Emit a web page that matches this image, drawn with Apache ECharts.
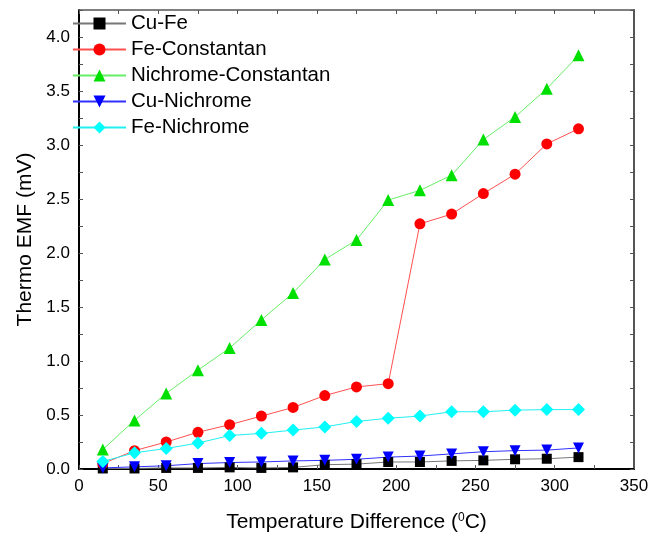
<!DOCTYPE html>
<html>
<head>
<meta charset="utf-8">
<script src="https://cdn.jsdelivr.net/npm/echarts@6/dist/echarts.min.js"></script>
<style>html,body{margin:0;padding:0;background:#fff}#c{width:659px;height:538px}</style>
</head>
<body>
<div id="c"></div>
<script>
const temps = [15,35,55,75,95,115,135,155,175,195,215,235,255,275,295,315];
const cuFe = [0.005,0.005,0.01,0.01,0.015,0.01,0.015,0.04,0.045,0.065,0.065,0.075,0.08,0.09,0.095,0.11];
const feConstantan = [0.05,0.17,0.25,0.34,0.41,0.49,0.57,0.68,0.76,0.79,2.27,2.36,2.55,2.73,3.01,3.15];
const nichromeConstantan = [0.18,0.45,0.70,0.915,1.12,1.38,1.63,1.94,2.12,2.49,2.58,2.72,3.05,3.26,3.52,3.83];
const cuNichrome = [0.01,0.02,0.03,0.05,0.06,0.065,0.075,0.08,0.09,0.11,0.12,0.14,0.16,0.17,0.175,0.195];
const feNichrome = [0.07,0.15,0.19,0.24,0.31,0.33,0.36,0.39,0.44,0.47,0.49,0.53,0.53,0.545,0.55,0.55];
const seriesNames = ['Cu-Fe','Fe-Constantan','Nichrome-Constantan','Cu-Nichrome','Fe-Nichrome'];

const pair = arr => temps.map((t,i)=>[t,arr[i]]);
const FONT = 'Liberation Sans, Arial, sans-serif';
const chart = echarts.init(document.getElementById('c'), null, {renderer:'canvas'});

function mk(name, arr, marker, lineColor, symbol, size, rotate){
  return {
    name, type:'line', data:pair(arr), symbol, symbolSize:size, symbolRotate:rotate||0,
    showAllSymbol:true, animation:false,
    itemStyle:{color:marker, borderWidth:0},
    lineStyle:{color:lineColor, width:1},
    emphasis:{disabled:true}
  };
}

const option = {
  backgroundColor:'#fff',
  animation:false,
  grid:{left:79, right:25, top:10, bottom:69},
  legend:{
    orient:'vertical', left:72, top:13, padding:0,
    itemWidth:53, itemHeight:15, itemGap:5,
    textStyle:{fontFamily:FONT, fontSize:20.5, color:'#000'},
    data:seriesNames
  },
  xAxis:[{
    type:'value', min:0, max:350, interval:25,
    name:'{a|Temperature Difference (}{s|0}{a|C)}', nameLocation:'middle', nameGap:43,
    nameTextStyle:{rich:{a:{fontFamily:FONT,fontSize:21,color:'#000'},s:{fontFamily:FONT,fontSize:12,color:'#000',verticalAlign:'top',padding:[0,0,9,0]}}},
    axisLine:{show:true, onZero:false, lineStyle:{color:'#000', width:2}},
    axisTick:{inside:true, length:4, lineStyle:{color:'#555'}},
    axisLabel:{margin:9, fontFamily:FONT, fontSize:17, color:'#000', formatter:v=> v%50===0 ? String(v) : ''},
    splitLine:{show:false}
  },{
    type:'value', min:0, max:350, interval:25, position:'top',
    axisLine:{show:true, onZero:false, lineStyle:{color:'#555', width:1.5}},
    axisTick:{inside:true, length:4, lineStyle:{color:'#555'}},
    axisLabel:{show:false}, splitLine:{show:false}
  }],
  yAxis:[{
    type:'value', min:0, max:4.25, interval:0.25,
    name:'Thermo EMF (mV)', nameLocation:'middle', nameGap:36, nameRotate:90,
    nameTextStyle:{fontFamily:FONT, fontSize:21, color:'#000'},
    axisLine:{show:true, onZero:false, lineStyle:{color:'#000', width:2}},
    axisTick:{inside:true, length:4, lineStyle:{color:'#555'}},
    axisLabel:{margin:9, fontFamily:FONT, fontSize:17, color:'#000',
      formatter:v=> Math.abs(v*2-Math.round(v*2))<1e-6 ? v.toFixed(1) : ''},
    splitLine:{show:false}
  },{
    type:'value', min:0, max:4.25, interval:0.25, position:'right',
    axisLine:{show:true, onZero:false, lineStyle:{color:'#555', width:2}},
    axisTick:{inside:true, length:4, lineStyle:{color:'#555'}},
    axisLabel:{show:false}, splitLine:{show:false}
  }],
  series:[
    mk(seriesNames[0], cuFe, '#000000', '#777777', 'rect', 10),
    mk(seriesNames[1], feConstantan, '#ff0000', '#ff5050', 'circle', 11),
    mk(seriesNames[2], nichromeConstantan, '#00e000', '#66ee66', 'triangle', 12),
    mk(seriesNames[3], cuNichrome, '#0000ff', '#3030ff', 'triangle', 11, 180),
    mk(seriesNames[4], feNichrome, '#00ffff', '#20f0f0', 'diamond', 13)
  ]
};
chart.setOption(option);
</script>
</body>
</html>
